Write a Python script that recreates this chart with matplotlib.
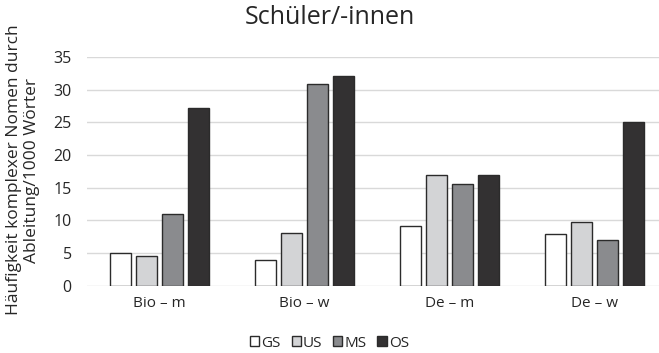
import numpy as np
import matplotlib.pyplot as plt

plt.rcParams['font.family'] = ['Open Sans', 'DejaVu Sans']

categories = ['Bio – m', 'Bio – w', 'De – m', 'De – w']
series = ['GS', 'US', 'MS', 'OS']
gs = [5.0, 3.9, 9.2, 8.0]
us = [4.6, 8.1, 16.9, 9.7]
ms = [11.0, 30.9, 15.5, 7.0]
os_ = [27.2, 32.0, 16.9, 25.0]
values = [gs, us, ms, os_]
colors = ['#ffffff', '#d3d4d6', '#8a8b8e', '#333132']

fig = plt.figure(figsize=(6.59, 3.53), dpi=100)
ax = fig.add_axes([0.132, 0.19, 0.88, 0.649])

x = np.arange(len(categories))
pitch = 0.181
width = 0.145
for i, (name, vals) in enumerate(zip(series, values)):
    ax.bar(x + (i - 1.5) * pitch, vals, width, color=colors[i],
           edgecolor='#2b2b2b', linewidth=1.0, label=name, zorder=3)

ax.set_xlim(-0.5, len(categories) - 0.5)
ax.set_ylim(0, 35)
ax.set_yticks(np.arange(0, 36, 5))
ax.set_xticks(x)
ax.set_xticklabels(categories)
ax.grid(axis='y', color='#d9d9d9', linewidth=1.0, zorder=0)
for s in ax.spines.values():
    s.set_visible(False)
ax.tick_params(length=0, labelsize=11.5, colors='#262626')
ax.tick_params(axis='y', pad=11)
ax.tick_params(axis='x', pad=7, labelsize=11)

fig.text(0.5, 0.95, 'Schüler/-innen', ha='center', va='center',
         fontsize=18, color='#262626')
fig.text(23 / 659, 0.518, 'Häufigkeit komplexer Nomen durch\nAbleitung/1000 Wörter',
         rotation=90, ha='center', va='center', fontsize=12.5,
         color='#262626', linespacing=1.2)

fig.legend(loc='center', bbox_to_anchor=(0.5, 0.028), ncol=4, frameon=False,
           fontsize=11, handlelength=0.6, handleheight=0.6,
           handletextpad=0.15, columnspacing=0.7, labelcolor='#262626')

fig.savefig('out.png', dpi=100)
